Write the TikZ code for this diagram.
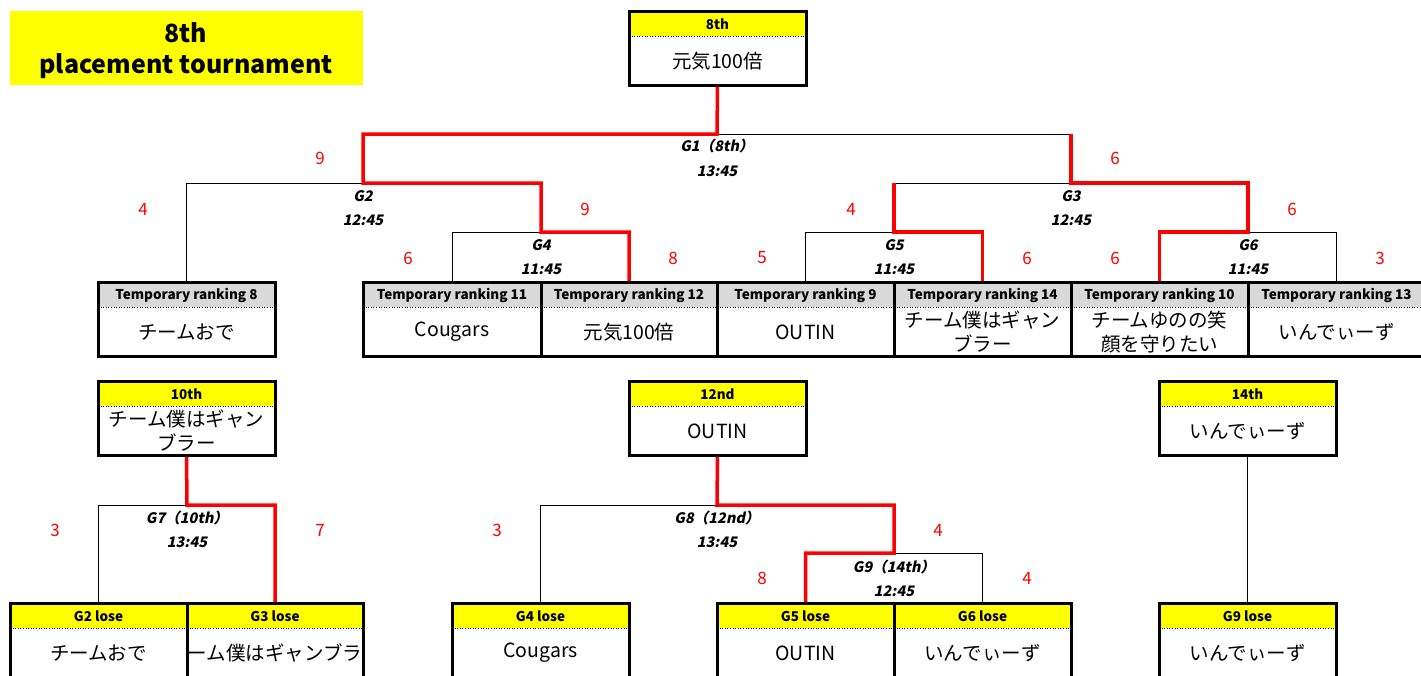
\documentclass[tikz,border=0pt]{standalone}
\usepackage{fontspec}
\setmainfont{Noto Sans CJK JP}
\newfontfamily\gfont[FakeSlant=0.2]{Noto Sans CJK JP}
\definecolor{hy}{RGB}{255,255,0}
\definecolor{hg}{RGB}{217,217,217}
\definecolor{wr}{RGB}{255,0,0}
\tikzset{
 thinl/.style={line width=1pt, black},
 winl/.style={line width=3.5pt, wr},
 frame/.style={line width=3pt, black},
 hdr/.style={font=\bfseries\fontsize{13.5}{15}\selectfont, inner sep=0},
 bodyt/.style={font=\fontsize{19.5}{24}\selectfont, align=center, inner sep=0},
 game/.style={font=\gfont\bfseries\fontsize{14.5}{17}\selectfont, inner sep=0},
 score/.style={font=\fontsize{17}{20}\selectfont, text=wr, inner sep=0},
 titlet/.style={font=\bfseries\fontsize{25}{29}\selectfont, inner sep=0},
}
\newcommand\cell[7]{%
 \fill[#5] (#2,#3) rectangle (#4,#3+25);
 \fill[white] (#2,#3+25) rectangle (#4,#3+74);
 \draw[line width=0.6pt, dotted] (#2,#3+25) -- (#4,#3+25);
 \node[hdr] (#1h) at ({(#2+#4)/2},#3+13) {#6};
 \begin{scope}
 \clip (#2,#3+25) rectangle (#4,#3+74);
 \node[bodyt] (#1) at ({(#2+#4)/2},#3+50) {#7};
 \end{scope}
 \coordinate (#1n) at ({(#2+#4)/2},#3);
 \coordinate (#1s) at ({(#2+#4)/2},#3+74);
}
\begin{document}
\begin{tikzpicture}[x=1pt,y=-1pt]
\useasboundingbox (0,0) rectangle (1421,675);
\clip (0,0) rectangle (1421,675);
\fill[white] (0,0) rectangle (1421,675);
% title
\fill[hy] (10,11) rectangle (363,85);
\node[titlet] (title1) at (186,33) {8th};
\node[titlet] (title2) at (186,66) {placement tournament};
% junctions
\coordinate (g1) at (717,134);
\coordinate (g2) at (363,183);
\coordinate (g3) at (1071,183);
\coordinate (g4) at (541,232);
\coordinate (g5) at (894,232);
\coordinate (g6) at (1248,232);
\coordinate (g7) at (187,505);
\coordinate (g8) at (717,505);
\coordinate (g9) at (894,553);
% cells
\cell{t8}{629}{11}{806}{hy}{8th}{元気100倍}
\cell{r8}{98}{282}{275}{hg}{Temporary ranking 8}{チームおで}
\cell{r11}{363}{282}{541}{hg}{Temporary ranking 11}{Cougars}
\cell{r12}{541}{282}{717}{hg}{Temporary ranking 12}{元気100倍}
\cell{r9}{717}{282}{894}{hg}{Temporary ranking 9}{OUTIN}
\cell{r14}{894}{282}{1071}{hg}{Temporary ranking 14}{チーム僕はギャン\\ブラー}
\cell{r10}{1071}{282}{1248}{hg}{Temporary ranking 10}{チームゆのの笑\\顔を守りたい}
\cell{r13}{1248}{282}{1425}{hg}{Temporary ranking 13}{いんでぃーず}
\cell{t10}{98}{381}{275}{hy}{10th}{チーム僕はギャン\\ブラー}
\cell{t12}{629}{381}{806}{hy}{12nd}{OUTIN}
\cell{t14}{1159}{381}{1336}{hy}{14th}{いんでぃーず}
\cell{l2}{10}{603}{187}{hy}{G2 lose}{チームおで}
\cell{l3}{187}{603}{363}{hy}{G3 lose}{チーム僕はギャンブラー}
\cell{l4}{452}{603}{629}{hy}{G4 lose}{Cougars}
\cell{l5}{717}{603}{894}{hy}{G5 lose}{OUTIN}
\cell{l6}{894}{603}{1071}{hy}{G6 lose}{いんでぃーず}
\cell{l9}{1159}{603}{1336}{hy}{G9 lose}{いんでぃーず}
% thin connectors
\draw[thinl] (g1) -- (g1 -| g3);
\draw[thinl] (g3) -- (g3 -| g5);
\draw[thinl] (g2) -| (r8n);
\draw[thinl] (g4) -| (r11n);
\draw[thinl] (g5) -| (r9n);
\draw[thinl] (g6) -| (r13n);
\draw[thinl] (g7) -| (l2n);
\draw[thinl] (g8) -| (l4n);
\draw[thinl] (g9) -| (l6n);
\draw[thinl] (t14s) -- (l9n);
% winner connectors
\draw[winl] (t8s) -- (g1) -| (g2) -| (g4) -| (r12n);
\draw[winl] (g1 -| g3) -- (g3) -| (g6) -| (r10n);
\draw[winl] (g3 -| g5) -- (g5) -| (r14n);
\draw[winl] (t10s) -- (g7) -| (l3n);
\draw[winl] (t12s) -- (g8) -| (g9) -| (l5n);
% frames
\draw[frame] (629,11) rectangle (806,85);
\draw[frame] (98,282) rectangle (275,356);
\draw[frame] (363,282) rectangle (1430,356);
\foreach \xx in {541,717,894,1071,1248} \draw[frame] (\xx,282) -- (\xx,356);
\draw[frame] (98,381) rectangle (275,455);
\draw[frame] (629,381) rectangle (806,455);
\draw[frame] (1159,381) rectangle (1336,455);
\draw[frame] (10,603) rectangle (363,677);
\draw[frame] (187,603) -- (187,677);
\draw[frame] (452,603) rectangle (629,677);
\draw[frame] (717,603) rectangle (1071,677);
\draw[frame] (894,603) -- (894,677);
\draw[frame] (1159,603) rectangle (1336,677);
% game labels
\node[game] (g1a) at (717,146) {G1（8th）};
\node[game] (g1b) at (717,171) {13:45};
\node[game] (g2a) at (363,196) {G2};
\node[game] (g2b) at (363,220) {12:45};
\node[game] (g3a) at (1071,196) {G3};
\node[game] (g3b) at (1071,220) {12:45};
\node[game] (g4a) at (541,245) {G4};
\node[game] (g4b) at (541,269) {11:45};
\node[game] (g5a) at (894,245) {G5};
\node[game] (g5b) at (894,269) {11:45};
\node[game] (g6a) at (1248,245) {G6};
\node[game] (g6b) at (1248,269) {11:45};
\node[game] (g7a) at (187,518) {G7（10th）};
\node[game] (g7b) at (187,542) {13:45};
\node[game] (g8a) at (717,518) {G8（12nd）};
\node[game] (g8b) at (717,542) {13:45};
\node[game] (g9a) at (894,567) {G9（14th）};
\node[game] (g9b) at (894,591) {12:45};
% scores
\node[score] (s1) at (320,158) {9};
\node[score] (s2) at (1115,158) {6};
\node[score] (s3) at (143,209) {4};
\node[score] (s4) at (585,209) {9};
\node[score] (s5) at (851,209) {4};
\node[score] (s6) at (1292,209) {6};
\node[score] (s7) at (408,258) {6};
\node[score] (s8) at (673,258) {8};
\node[score] (s9) at (762,258) {5};
\node[score] (s10) at (1027,258) {6};
\node[score] (s11) at (1115,258) {6};
\node[score] (s12) at (1380,258) {3};
\node[score] (s13) at (55,530) {3};
\node[score] (s14) at (320,530) {7};
\node[score] (s15) at (497,530) {3};
\node[score] (s16) at (938,530) {4};
\node[score] (s17) at (762,578) {8};
\node[score] (s18) at (1027,578) {4};
\end{tikzpicture}
\end{document}
